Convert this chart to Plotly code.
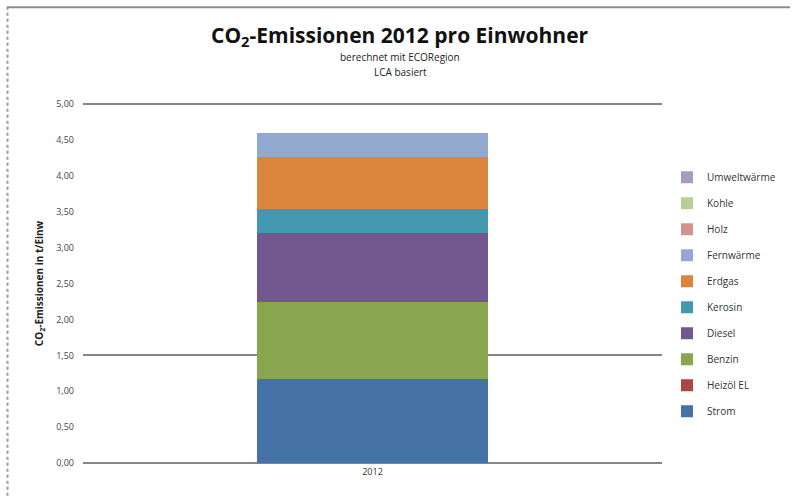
import plotly.graph_objects as go

categories = ["2012"]
series_names = ["Strom", "Heizöl EL", "Benzin", "Diesel", "Kerosin",
                "Erdgas", "Fernwärme", "Holz", "Kohle", "Umweltwärme"]
series_values = [[1.17], [0.0], [1.07], [0.96], [0.34],
                 [0.72], [0.34], [0.0], [0.0], [0.0]]
series_colors = ["#4572A7", "#AA4643", "#89A54E", "#71588F", "#4198AF",
                 "#DB843D", "#93A9CF", "#D19392", "#B9CD96", "#A99BBD"]
tick_vals = [0, 0.5, 1.0, 1.5, 2.0, 2.5, 3.0, 3.5, 4.0, 4.5, 5.0]
tick_text = ["0,00", "0,50", "1,00", "1,50", "2,00", "2,50",
             "3,00", "3,50", "4,00", "4,50", "5,00"]
grid_lines = [0.0, 1.5, 5.0]
y_min, y_max = 0.0, 5.0

W, H = 792, 497
# pixel rows of y_min / y_max and columns of the plot area
Y0_PX, Y5_PX, XL_PX, XR_PX = 463, 104, 83, 662
PAD = 0.025  # small range padding so edge gridlines are drawn
unit_px = (Y0_PX - Y5_PX) / (y_max - y_min)
MT = Y5_PX - PAD * unit_px
MB = H - (Y0_PX + PAD * unit_px)
ML, MR = XL_PX, W - XR_PX
PW, PH = W - ML - MR, H - MT - MB

def px_x(p):
    return (p - ML) / PW

def px_y(p):
    return (H - MB - p) / PH

fig = go.Figure()
for i, (name, vals, col) in enumerate(zip(series_names, series_values, series_colors)):
    fig.add_trace(go.Bar(x=categories, y=vals, name=name,
                         marker=dict(color=col, line=dict(width=0)),
                         legendgroup=name, legendrank=1000 - i))

# invisible helper trace carrying the partial grid axis
fig.add_trace(go.Scatter(x=categories, y=[None], yaxis="y2",
                         showlegend=False, hoverinfo="skip"))

shapes = [
    dict(type="line", xref="paper", yref="paper",
         x0=px_x(7), x1=px_x(790), y0=px_y(7.5), y1=px_y(7.5),
         line=dict(color="#8c8c8c", width=2)),
    dict(type="line", xref="paper", yref="paper",
         x0=px_x(7.5), x1=px_x(7.5), y0=px_y(7), y1=px_y(497),
         line=dict(color="#9a9a9a", width=2, dash="dot")),
]

rng = [y_min - PAD, y_max + PAD]

fig.update_layout(
    width=W, height=H,
    margin=dict(l=ML, r=MR, t=MT, b=MB, autoexpand=False),
    paper_bgcolor="white", plot_bgcolor="white",
    barmode="stack", bargap=0.6,
    font=dict(family="Open Sans, Liberation Sans, sans-serif", color="#222222"),
    shapes=shapes,
    showlegend=True,
    legend=dict(traceorder="grouped", x=px_x(667), y=px_y(163),
                xanchor="left", yanchor="top",
                font=dict(size=10, color="#333333"),
                tracegroupgap=7, itemwidth=30,
                bgcolor="rgba(0,0,0,0)"),
    annotations=[
        dict(text="<b>CO<sub>2</sub>-Emissionen 2012 pro Einwohner</b>",
             xref="paper", yref="paper", x=px_x(400), y=px_y(36),
             xanchor="center", yanchor="middle", showarrow=False,
             font=dict(size=21, color="#111111")),
        dict(text="berechnet mit ECORegion",
             xref="paper", yref="paper", x=px_x(400), y=px_y(57),
             xanchor="center", yanchor="middle", showarrow=False,
             font=dict(size=10, color="#222222")),
        dict(text="LCA basiert",
             xref="paper", yref="paper", x=px_x(400), y=px_y(72),
             xanchor="center", yanchor="middle", showarrow=False,
             font=dict(size=10, color="#222222")),
    ],
    xaxis=dict(showgrid=False, showline=False, zeroline=False,
               tickfont=dict(size=9, color="#333333"), ticks=""),
    yaxis=dict(range=rng, tickvals=tick_vals, ticktext=tick_text,
               showgrid=False, zeroline=False, showline=False, ticks="",
               ticklabelstandoff=8,
               tickfont=dict(size=9, color="#444444"),
               title=dict(text="<b>CO<sub>2</sub>-Emissionen in t/Einw</b>",
                          font=dict(size=10, color="#222222"), standoff=10)),
    yaxis2=dict(range=rng, overlaying="y", side="right",
                tickvals=grid_lines, showticklabels=False, ticks="",
                showgrid=True, gridcolor="#868686", gridwidth=2,
                zeroline=False, showline=False, layer="below traces"),
)

fig.write_html("out.html")
